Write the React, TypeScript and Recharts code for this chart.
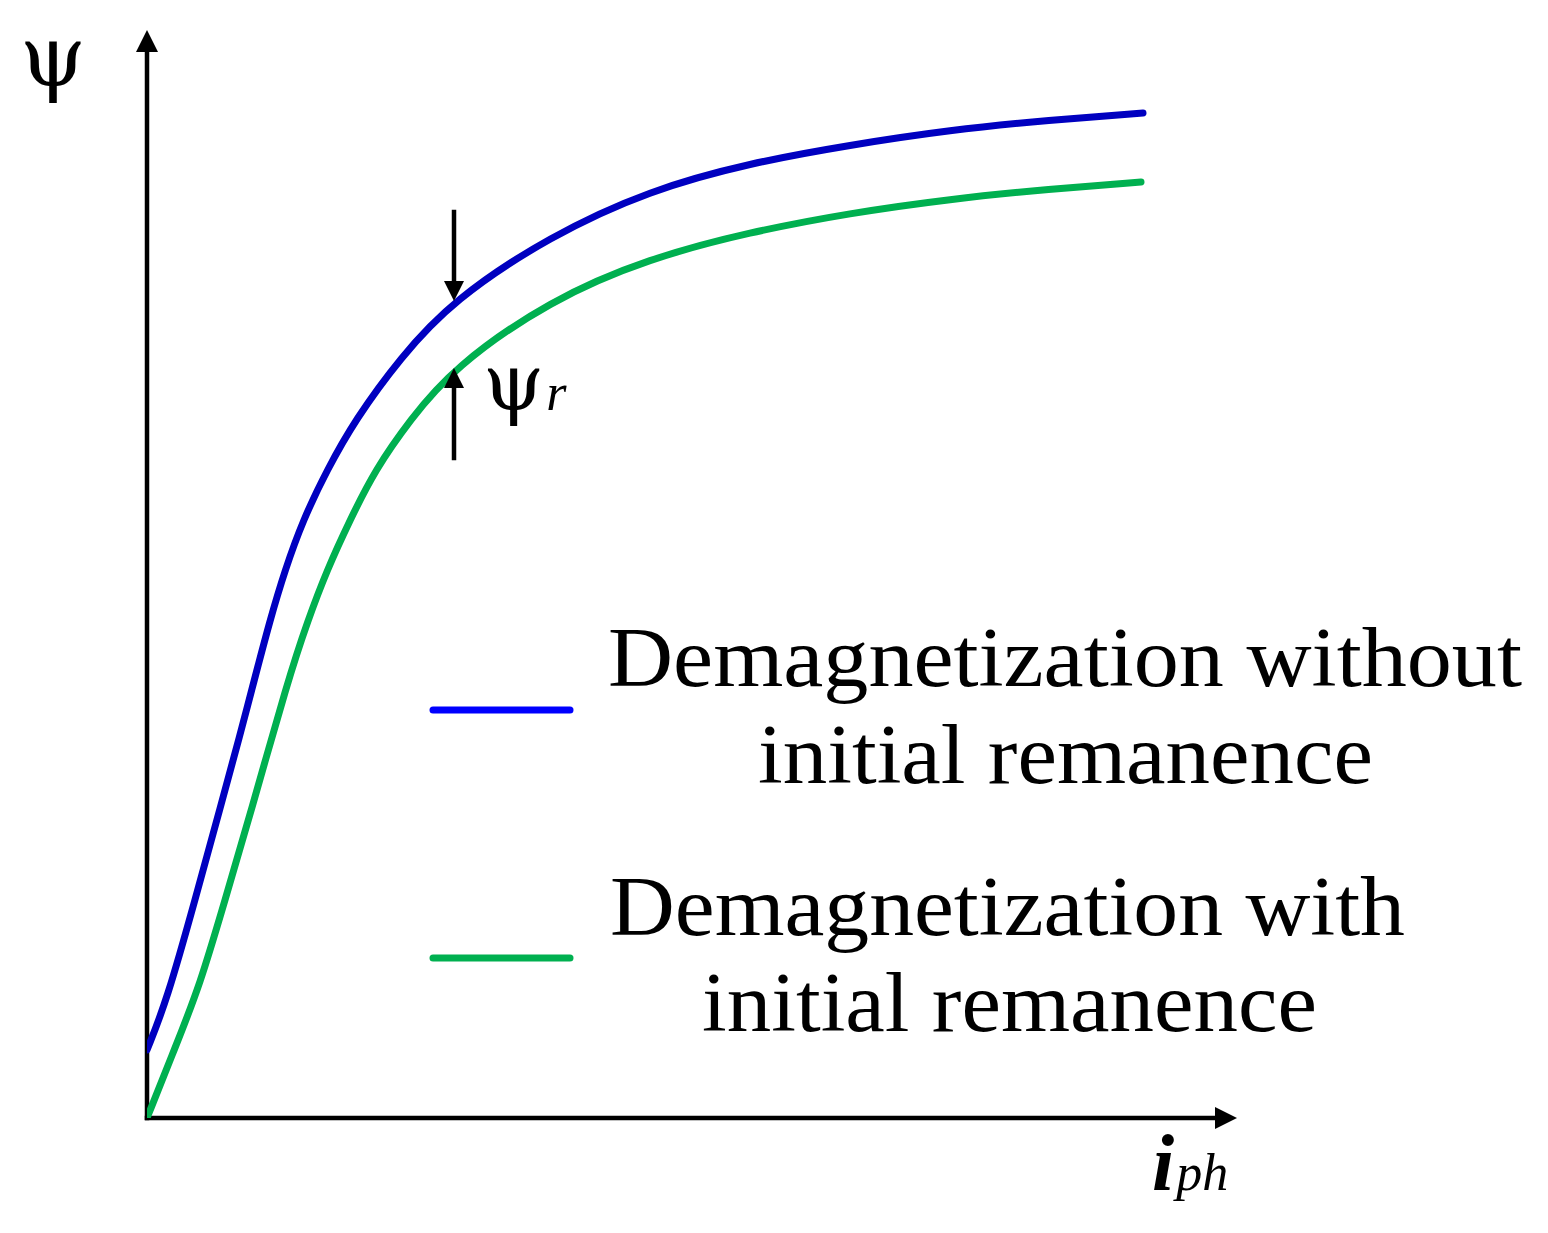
import React from 'react'
import { LineChart, Line, XAxis, YAxis, ReferenceLine, ReferenceDot, Legend } from 'recharts'

// flux linkage vs phase current (arbitrary units)
const withoutRemanence = [
  { i: 0, psi: 68 },
  { i: 20, psi: 118 },
  { i: 48, psi: 218 },
  { i: 74, psi: 313 },
  { i: 93, psi: 383 },
  { i: 106, psi: 433 },
  { i: 123, psi: 498 },
  { i: 138, psi: 548 },
  { i: 156, psi: 598 },
  { i: 180, psi: 648 },
  { i: 208, psi: 698 },
  { i: 253, psi: 760 },
  { i: 306, psi: 818 },
  { i: 403, psi: 882 },
  { i: 503, psi: 928 },
  { i: 603, psi: 955 },
  { i: 703, psi: 973 },
  { i: 803, psi: 988 },
  { i: 903, psi: 998 },
  { i: 996, psi: 1005 },
]

const withRemanence = [
  { i: 0, psi: 0 },
  { i: 28, psi: 70 },
  { i: 53, psi: 133 },
  { i: 78, psi: 218 },
  { i: 103, psi: 303 },
  { i: 141, psi: 438 },
  { i: 161, psi: 498 },
  { i: 180, psi: 548 },
  { i: 203, psi: 598 },
  { i: 228, psi: 648 },
  { i: 263, psi: 698 },
  { i: 306, psi: 750 },
  { i: 403, psi: 818 },
  { i: 503, psi: 860 },
  { i: 603, psi: 886 },
  { i: 703, psi: 905 },
  { i: 803, psi: 919 },
  { i: 903, psi: 929 },
  { i: 994, psi: 936 },
]

const seriesNames = ['Demagnetization without initial remanence', 'Demagnetization with initial remanence']
const legendLines = [
  ['Demagnetization without', 'initial remanence'],
  ['Demagnetization with', 'initial remanence'],
]

const W = 1548
const H = 1233
const SERIF = '"Liberation Serif", "DejaVu Serif", serif'
const GREEK = '"DejaVu Serif", "Liberation Serif", serif'

const arrow = (head: number, halfW: number, width: number) => (p: any) => {
  const { x1, y1, x2, y2 } = p
  const dx = x2 - x1
  const dy = y2 - y1
  const len = Math.hypot(dx, dy) || 1
  const ux = dx / len
  const uy = dy / len
  const bx = x2 - ux * head
  const by = y2 - uy * head
  const nx = -uy
  const ny = ux
  return (
    <g>
      <line x1={x1} y1={y1} x2={bx + ux * 2} y2={by + uy * 2} stroke="#000" strokeWidth={width} strokeLinecap="square" />
      <polygon
        points={`${x2},${y2} ${bx + nx * halfW},${by + ny * halfW} ${bx - nx * halfW},${by - ny * halfW}`}
        fill="#000"
      />
    </g>
  )
}

const legendLayout = [
  { sx: 433, sy: 710, color: '#0000FF', rows: [{ x: 608, y: 686, w: 914 }, { x: 758, y: 783, w: 615 }] },
  { sx: 433, sy: 958, color: '#00B050', rows: [{ x: 610, y: 935, w: 795 }, { x: 702, y: 1031, w: 615 }] },
]

const renderLegend = () => (
  <svg width={W} height={H} style={{ position: 'absolute', left: 0, top: 0, pointerEvents: 'none' }}>
    {legendLayout.map((item, idx) => (
      <g key={idx}>
        <line x1={item.sx} y1={item.sy} x2={item.sx + 137} y2={item.sy} stroke={item.color} strokeWidth={7} strokeLinecap="round" />
        {legendLines[idx].map((t, k) => (
          <text
            key={k}
            x={item.rows[k].x}
            y={item.rows[k].y}
            fontFamily={SERIF}
            fontSize={84}
            fill="#000"
            textLength={item.rows[k].w}
            lengthAdjust="spacingAndGlyphs"
          >
            {t}
          </text>
        ))}
      </g>
    ))}
  </svg>
)

export default function App() {
  return (
    <div style={{ position: 'absolute', left: 0, top: 0, width: W, height: H, background: '#fff' }}>
      <LineChart width={W} height={H} margin={{ top: 30, right: 311, bottom: 115, left: 147 }}>
        <XAxis hide type="number" dataKey="i" domain={[0, 1090]} allowDataOverflow />
        <YAxis hide type="number" dataKey="psi" domain={[0, 1088]} allowDataOverflow />

        {/* axes */}
        <ReferenceLine segment={[{ x: 0, y: 0 }, { x: 0, y: 1088 }]} ifOverflow="visible" shape={arrow(22, 11, 4.5)} />
        <ReferenceLine segment={[{ x: 0, y: 0 }, { x: 1090, y: 0 }]} ifOverflow="visible" shape={arrow(22, 11, 4.5)} />

        <Line
          data={withoutRemanence}
          dataKey="psi"
          name={seriesNames[0]}
          type="basis"
          stroke="#0000C0"
          strokeWidth={7}
          strokeLinecap="round"
          dot={false}
          activeDot={false}
          isAnimationActive={false}
        />
        <Line
          data={withRemanence}
          dataKey="psi"
          name={seriesNames[1]}
          type="basis"
          stroke="#00B050"
          strokeWidth={7}
          strokeLinecap="round"
          dot={false}
          activeDot={false}
          isAnimationActive={false}
        />

        {/* psi_r gap markers */}
        <ReferenceLine segment={[{ x: 307, y: 906 }, { x: 307, y: 817 }]} ifOverflow="visible" shape={arrow(20, 10, 4.5)} />
        <ReferenceLine segment={[{ x: 307, y: 660 }, { x: 307, y: 750 }]} ifOverflow="visible" shape={arrow(20, 10, 4.5)} />

        <ReferenceDot
          x={336}
          y={708}
          ifOverflow="visible"
          shape={(p: any) => (
            <text x={p.cx} y={p.cy} fill="#000">
              <tspan fontFamily={GREEK} fontSize={78}>ψ</tspan>
              <tspan fontFamily={SERIF} fontSize={52} fontStyle="italic" dx={2}>r</tspan>
            </text>
          )}
        />
        <ReferenceDot
          x={-94}
          y={1033}
          ifOverflow="visible"
          shape={(p: any) => (
            <text x={p.cx} y={p.cy} fontFamily={GREEK} fontSize={84} textAnchor="middle" fill="#000">ψ</text>
          )}
        />
        <ReferenceDot
          x={1005}
          y={-72}
          ifOverflow="visible"
          shape={(p: any) => (
            <text x={p.cx} y={p.cy} fontFamily={SERIF} fill="#000">
              <tspan fontSize={80} fontWeight="bold" fontStyle="italic">i</tspan>
              <tspan fontSize={52} fontStyle="italic" dx={2}>ph</tspan>
            </text>
          )}
        />

        <Legend
          layout="vertical"
          align="center"
          verticalAlign="middle"
          content={renderLegend}
          wrapperStyle={{ position: 'absolute', left: 0, top: 0, width: W, height: H, pointerEvents: 'none' }}
        />
      </LineChart>
    </div>
  )
}
